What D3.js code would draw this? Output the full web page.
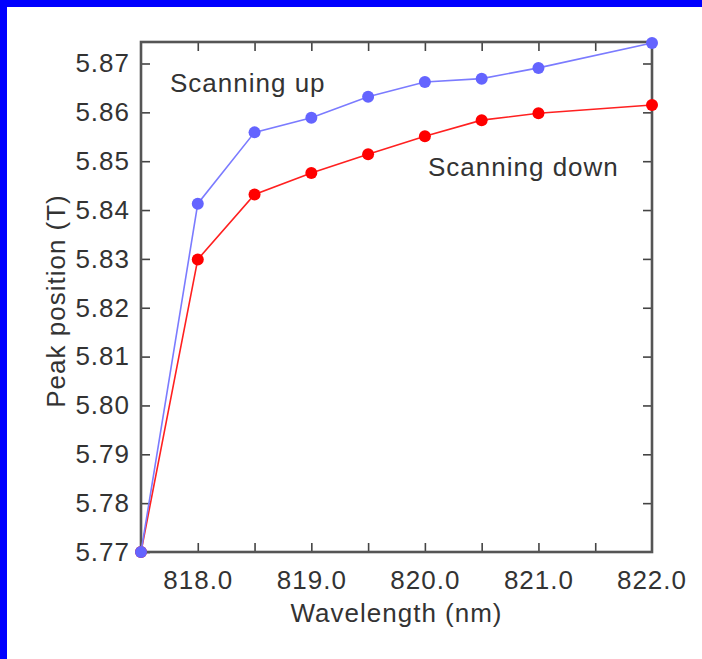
<!DOCTYPE html>
<head>
  <style>
    body { margin: 0; background: #fff; }
    text { font-family: "Liberation Sans", Arial, sans-serif; fill: #333; letter-spacing: 1px; }
  </style>
<title>Peak position vs wavelength</title>
</head>

<body>

  <script src="https://cdn.jsdelivr.net/npm/d3@7/dist/d3.min.js"></script>

  <script>
    // data
    const wavelength = [817.5, 818.0, 818.5, 819.0, 819.5, 820.0, 820.5, 821.0, 822.0];
    const scanUp   = [5.7700, 5.8413, 5.8559, 5.8589, 5.8632, 5.8662, 5.8669, 5.8691, 5.8742];
    const scanDown = [5.7700, 5.8299, 5.8432, 5.8476, 5.8514, 5.8551, 5.8584, 5.8598, 5.8615];
    const xTicks = [818.0, 818.5, 819.0, 819.5, 820.0, 820.5, 821.0, 821.5];
    const yTicks = [5.77, 5.78, 5.79, 5.80, 5.81, 5.82, 5.83, 5.84, 5.85, 5.86, 5.87];
    const xDomain = [817.5, 822.0];
    const yDomain = [5.77, 5.8744];

    // dimensions and margins
    const W = 702, H = 659;
    const margin = {top: 42, right: 50, bottom: 107, left: 141};
    const width = W - margin.left - margin.right;
    const height = H - margin.top - margin.bottom;

    const x = d3.scaleLinear().domain(xDomain).range([0, width]);
    const y = d3.scaleLinear().domain(yDomain).range([height, 0]);

    const root = d3.select("body").append("svg")
      .attr("width", W)
      .attr("height", H);

    // blue frame on the top and left edges
    root.append("rect").attr("x", 0).attr("y", 0).attr("width", W).attr("height", 7).attr("fill", "#0000ff");
    root.append("rect").attr("x", 0).attr("y", 0).attr("width", 7).attr("height", H).attr("fill", "#0000ff");

    const svg = root.append("g")
      .attr("transform", "translate(" + margin.left + "," + margin.top + ")");

    const isInt = d => Math.abs(d - Math.round(d)) < 1e-6;

    // axes, ticks pointing inward
    const gx = svg.append("g")
      .attr("transform", "translate(0," + height + ")")
      .call(d3.axisBottom(x).tickValues(xTicks).tickSizeInner(-9).tickSizeOuter(0).tickPadding(19)
        .tickFormat(d => isInt(d) ? d.toFixed(1) : ""));
    // label at the right end (822.0) sits on the corner
    gx.append("text")
      .attr("x", x(822)).attr("y", 19).attr("dy", "0.71em")
      .attr("text-anchor", "middle").style("font-size", "26px")
      .text("822.0");

    const gy = svg.append("g")
      .call(d3.axisLeft(y).tickValues(yTicks).tickSizeInner(-9).tickSizeOuter(0).tickPadding(11)
        .tickFormat(d3.format(".2f")));

    const gt = svg.append("g")
      .call(d3.axisTop(x).tickValues(xTicks).tickSizeInner(-9).tickSizeOuter(0).tickFormat(""));

    const gr = svg.append("g")
      .attr("transform", "translate(" + width + ",0)")
      .call(d3.axisRight(y).tickValues(yTicks.slice(1)).tickSizeInner(-9).tickSizeOuter(0).tickFormat(""));

    [gx, gy, gt, gr].forEach(g => {
      g.select(".domain").remove();
      g.selectAll(".tick line").attr("stroke", "#444").attr("stroke-width", 1.6);
      g.selectAll("text").style("font-size", "26px").attr("fill", "#333");
    });

    // plot frame
    svg.append("rect")
      .attr("x", 0).attr("y", 0)
      .attr("width", width).attr("height", height)
      .attr("fill", "none")
      .attr("stroke", "#555")
      .attr("stroke-width", 2.6);

    // series
    const line = d3.line().x(d => x(d[0])).y(d => y(d[1]));
    const series = [
      {vals: scanDown, line: "#ff2020", dot: "#ff0000"},
      {vals: scanUp, line: "#7b7bff", dot: "#6464ff"}
    ];
    series.forEach(s => {
      const pts = wavelength.map((w, i) => [w, s.vals[i]]);
      svg.append("path")
        .datum(pts)
        .attr("fill", "none")
        .attr("stroke", s.line)
        .attr("stroke-width", 1.6)
        .attr("d", line);
      svg.selectAll(null)
        .data(pts)
        .enter().append("circle")
        .attr("cx", d => x(d[0]))
        .attr("cy", d => y(d[1]))
        .attr("r", 6)
        .attr("fill", s.dot);
    });

    // series labels
    svg.append("text")
      .attr("x", 170 - margin.left).attr("y", 92 - margin.top)
      .style("font-size", "26px")
      .text("Scanning up");
    svg.append("text")
      .attr("x", 428 - margin.left).attr("y", 176 - margin.top)
      .style("font-size", "26px")
      .text("Scanning down");

    // axis titles
    svg.append("text")
      .attr("x", width / 2).attr("y", 622 - margin.top)
      .attr("text-anchor", "middle")
      .style("font-size", "26px")
      .text("Wavelength (nm)");

    svg.append("text")
      .attr("transform", "rotate(-90)")
      .attr("x", -(301 - margin.top)).attr("y", 65 - margin.left)
      .attr("text-anchor", "middle")
      .style("font-size", "26px")
      .text("Peak position (T)");
  </script>

</body>
